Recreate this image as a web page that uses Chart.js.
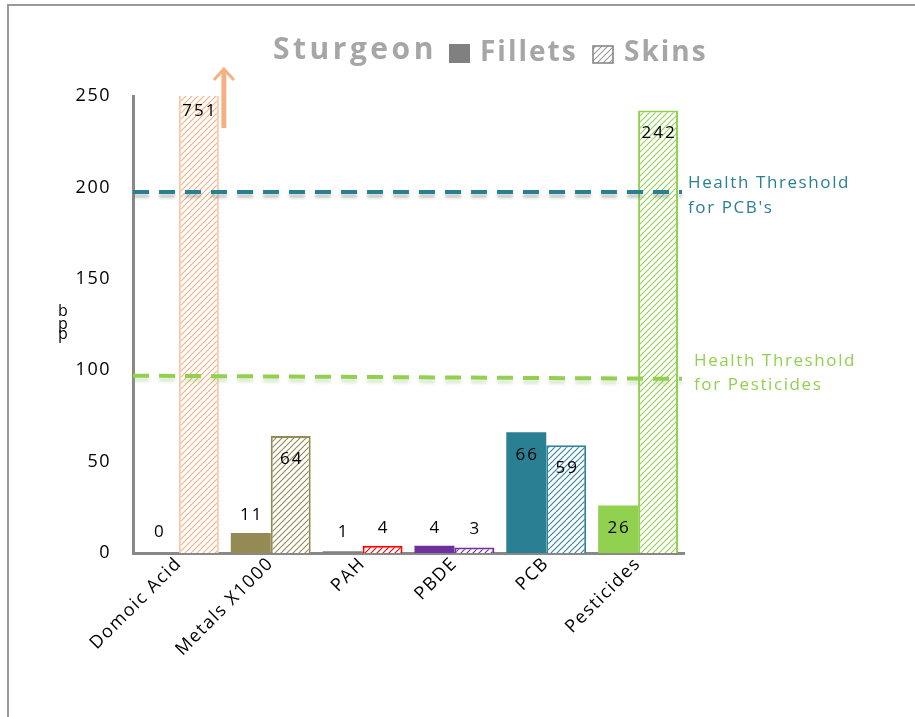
<!DOCTYPE html>
<html>
<head>
<meta charset="utf-8">
<script src="https://cdn.jsdelivr.net/npm/chart.js@4"></script>
<style>
  html, body { margin: 0; padding: 0; background: #fff; }
  #wrap { width: 915px; height: 717px; position: relative; }
</style>
</head>
<body>
<div id="wrap"><canvas id="sturgeon-chart" width="915" height="717"></canvas></div>
<script>
var categories = ['Domoic Acid', 'Metals X1000', 'PAH', 'PBDE', 'PCB', 'Pesticides']
var fillets = [0, 11, 1, 4, 66, 26]
var skins = [751, 64, 4, 3, 59, 242]
var filletColors = ['#F4B183', '#948A54', '#808080', '#7030A0', '#2A7F93', '#92D050']
var skinColors = ['#F4B183', '#948A54', '#FF0000', '#7030A0', '#31849B', '#92D050']
var skinBorders = ['#F8CBAD', '#948A54', '#FF0000', '#7030A0', '#31849B', '#92D050']
var yTicks = [0, 50, 100, 150, 200, 250]
var pcbThreshold = [197.5, 197.5]
var pestThreshold = [97, 95.3]

var FONT = '"Open Sans", sans-serif'

function hatch(color) {
    var c = document.createElement('canvas')
    c.width = 6
    c.height = 6
    var g = c.getContext('2d')
    g.fillStyle = '#fff'
    g.fillRect(0, 0, 6, 6)
    g.strokeStyle = color
    g.lineWidth = 1.1
    g.beginPath()
    g.moveTo(-1, 7); g.lineTo(7, -1)
    g.moveTo(-4, 4); g.lineTo(4, -4)
    g.moveTo(2, 10); g.lineTo(10, 2)
    g.stroke()
    return g.createPattern(c, 'repeat')
}

// letter spacing for the axis tick labels
var spacingPlugin = {
    id: 'spacing',
    beforeDraw: function(chart) { chart.ctx.letterSpacing = '1.5px' },
    beforeDatasetsDraw: function(chart) { chart.ctx.letterSpacing = '0px' }
}

// title, legend, value labels, thresholds, arrow, frame
var extrasPlugin = {
    id: 'extras',
    afterDatasetsDraw: function(chart) {
        var ctx = chart.ctx
        var y = chart.scales.y
        var area = chart.chartArea
        ctx.save()

        // threshold lines
        function threshold(vals, color, shadow) {
            ctx.save()
            ctx.strokeStyle = color
            ctx.lineWidth = 4
            ctx.setLineDash([16, 10])
            ctx.shadowColor = shadow
            ctx.shadowOffsetY = 4
            ctx.shadowBlur = 3
            ctx.beginPath()
            ctx.moveTo(area.left, y.getPixelForValue(vals[0]))
            ctx.lineTo(area.right - 2, y.getPixelForValue(vals[1]))
            ctx.stroke()
            ctx.restore()
        }
        threshold(pcbThreshold, '#2A7F93', 'rgba(90,110,90,0.35)')
        threshold(pestThreshold, '#92D050', 'rgba(140,190,100,0.3)')

        // value labels
        ctx.font = '17px ' + FONT
        ctx.letterSpacing = '2px'
        ctx.fillStyle = '#000'
        ctx.textAlign = 'center'
        ctx.textBaseline = 'middle'
        chart.data.datasets.forEach(function(ds, di) {
            var meta = chart.getDatasetMeta(di)
            meta.data.forEach(function(bar, i) {
                var v = ds.data[i]
                var clipped = bar.y < area.top
                var top = Math.max(bar.y, area.top)
                var h = area.bottom - top
                var ly
                if (clipped) ly = top + 15
                else if (h > 40) ly = top + 23
                else ly = Math.min(top - 18, area.bottom - 21)
                ctx.fillText(String(v), bar.x + 1, ly)
            })
        })
        ctx.letterSpacing = '0px'

        // arrow for off-scale value
        var skinBar = chart.getDatasetMeta(1).data[0]
        var ax = skinBar.x + skinBar.width / 2 + 5
        ctx.strokeStyle = '#F4B183'
        ctx.lineWidth = 5
        ctx.lineCap = 'butt'
        ctx.beginPath()
        ctx.moveTo(ax, area.top + 32)
        ctx.lineTo(ax, area.top - 26)
        ctx.stroke()
        ctx.lineWidth = 3
        ctx.beginPath()
        ctx.moveTo(ax - 10, area.top - 16)
        ctx.lineTo(ax, area.top - 27)
        ctx.lineTo(ax + 10, area.top - 16)
        ctx.stroke()

        // threshold texts
        ctx.textAlign = 'left'
        ctx.font = '17px ' + FONT
        ctx.letterSpacing = '1.6px'
        ctx.fillStyle = '#2A7F93'
        ctx.fillText('Health Threshold', 688, 183)
        ctx.fillText("for PCB's", 688, 208)
        ctx.fillStyle = '#92D050'
        ctx.fillText('Health Threshold', 694, 361)
        ctx.fillText('for Pesticides', 694, 385)
        ctx.letterSpacing = '0px'

        // y axis title
        ctx.fillStyle = '#000'
        ctx.font = '16px ' + FONT
        ctx.textAlign = 'center'
        ctx.fillText('b', 63, 311)
        ctx.fillText('p', 63, 324)
        ctx.fillText('p', 63, 334)

        // title + legend
        ctx.textAlign = 'left'
        ctx.fillStyle = '#A6A6A6'
        ctx.font = 'bold 30px ' + FONT
        ctx.letterSpacing = '3.5px'
        ctx.fillText('Sturgeon', 273, 50)
        ctx.font = 'bold 28px ' + FONT
        ctx.letterSpacing = '2px'
        ctx.fillText('Fillets', 480, 53)
        ctx.fillText('Skins', 624, 53)
        ctx.letterSpacing = '0px'
        ctx.fillStyle = '#808080'
        ctx.fillRect(449, 44, 21, 19)
        ctx.fillStyle = hatch('#9a9a9a')
        ctx.fillRect(593, 46, 20, 17)
        ctx.strokeStyle = '#808080'
        ctx.lineWidth = 1.5
        ctx.strokeRect(593, 46, 20, 17)

        // frame
        ctx.strokeStyle = '#999'
        ctx.lineWidth = 2
        ctx.beginPath()
        ctx.moveTo(8, 717)
        ctx.lineTo(8, 5)
        ctx.lineTo(915, 5)
        ctx.stroke()

        ctx.restore()
    }
}

var chartConfig = {
    type: 'bar',
    data: {
        labels: categories,
        datasets: [{
            label: 'Fillets',
            data: fillets,
            backgroundColor: filletColors,
            borderWidth: 0
        }, {
            label: 'Skins',
            data: skins,
            backgroundColor: skinColors.map(hatch),
            borderColor: skinBorders,
            borderWidth: 2
        }]
    },
    options: {
        responsive: false,
        animation: false,
        categoryPercentage: 0.87,
        barPercentage: 1,
        layout: { padding: { top: 96, right: 231, left: 0, bottom: 0 } },
        plugins: {
            legend: { display: false },
            title: { display: false },
            tooltip: { enabled: false }
        },
        scales: {
            x: {
                grid: { display: false, drawTicks: false },
                border: { color: '#888', width: 3 },
                ticks: {
                    color: '#000',
                    font: { family: FONT, size: 18 },
                    maxRotation: 45,
                    minRotation: 45,
                    padding: 0
                },
                afterFit: function(scale) { scale.height = 164 }
            },
            y: {
                min: 0,
                max: 250,
                afterBuildTicks: function(scale) {
                    scale.ticks = yTicks.map(function(v) { return { value: v } })
                },
                grid: { display: false, drawTicks: false },
                border: { color: '#888', width: 3 },
                ticks: {
                    color: '#000',
                    font: { family: FONT, size: 18 },
                    padding: 22
                },
                afterFit: function(scale) { scale.width = 133 }
            }
        }
    },
    plugins: [spacingPlugin, extrasPlugin]
}

var ctx = document.getElementById('sturgeon-chart').getContext('2d')
var sturgeonChart = new Chart(ctx, chartConfig)
</script>
</body>
</html>
